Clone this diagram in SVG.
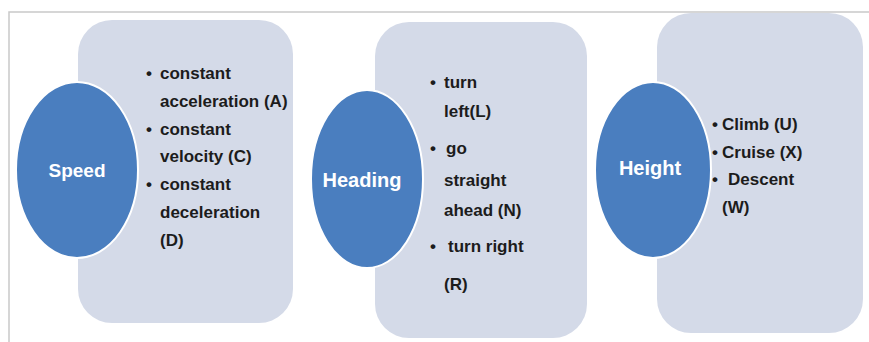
<svg xmlns="http://www.w3.org/2000/svg" width="869" height="342" viewBox="0 0 869 342">
<style>
.frame{fill:none;stroke:#c9c9c9;stroke-width:1.5}
.box{fill:#d4dae8}
.circ{fill:#4a7ebf;stroke:#ffffff;stroke-width:2}
.title{font-family:"Liberation Sans",Arial,sans-serif;font-weight:bold;font-size:20px;fill:#ffffff;text-anchor:middle;dominant-baseline:central}
.item{font-family:"Liberation Sans",Arial,sans-serif;font-weight:bold;font-size:17px;fill:#1c1c1c}
</style>
<rect width="869" height="342" fill="#ffffff"/>
<path class="frame" d="M9,342 V12 H869"/>
<g id="speed">
<rect class="box" x="78" y="20" width="215" height="303" rx="34"/>
<ellipse class="circ" cx="77" cy="170" rx="61" ry="88"/>
<text class="title" x="77" y="170" style="font-size:19px">Speed</text>
<text class="item"><tspan x="146" y="79">•</tspan><tspan x="160" y="79">constant</tspan><tspan x="160" y="107">acceleration (A)</tspan><tspan x="146" y="135">•</tspan><tspan x="160" y="135">constant</tspan><tspan x="160" y="162">velocity (C)</tspan><tspan x="146" y="190">•</tspan><tspan x="160" y="190">constant</tspan><tspan x="160" y="218">deceleration</tspan><tspan x="160" y="246">(D)</tspan></text>
</g>
<g id="heading">
<rect class="box" x="375" y="22" width="212" height="316" rx="34"/>
<ellipse class="circ" cx="367" cy="179" rx="56" ry="89"/>
<text class="title" x="362" y="180">Heading</text>
<text class="item"><tspan x="430" y="88">•</tspan><tspan x="444" y="88">turn</tspan><tspan x="444" y="117">left(L)</tspan><tspan x="430" y="154">•</tspan><tspan x="446" y="154">go</tspan><tspan x="444" y="186">straight</tspan><tspan x="444" y="216">ahead (N)</tspan><tspan x="430" y="252">•</tspan><tspan x="448" y="252">turn right</tspan><tspan x="444" y="290">(R)</tspan></text>
</g>
<g id="height">
<rect class="box" x="657" y="13" width="206" height="320" rx="34"/>
<ellipse class="circ" cx="653" cy="170" rx="58" ry="88"/>
<text class="title" x="650" y="168">Height</text>
<text class="item"><tspan x="712" y="130">•</tspan><tspan x="722" y="130">Climb (U)</tspan><tspan x="712" y="158">•</tspan><tspan x="722" y="158">Cruise (X)</tspan><tspan x="712" y="185">•</tspan><tspan x="728" y="185">Descent</tspan><tspan x="722" y="213">(W)</tspan></text>
</g>
<g id="connectors"/>
</svg>
